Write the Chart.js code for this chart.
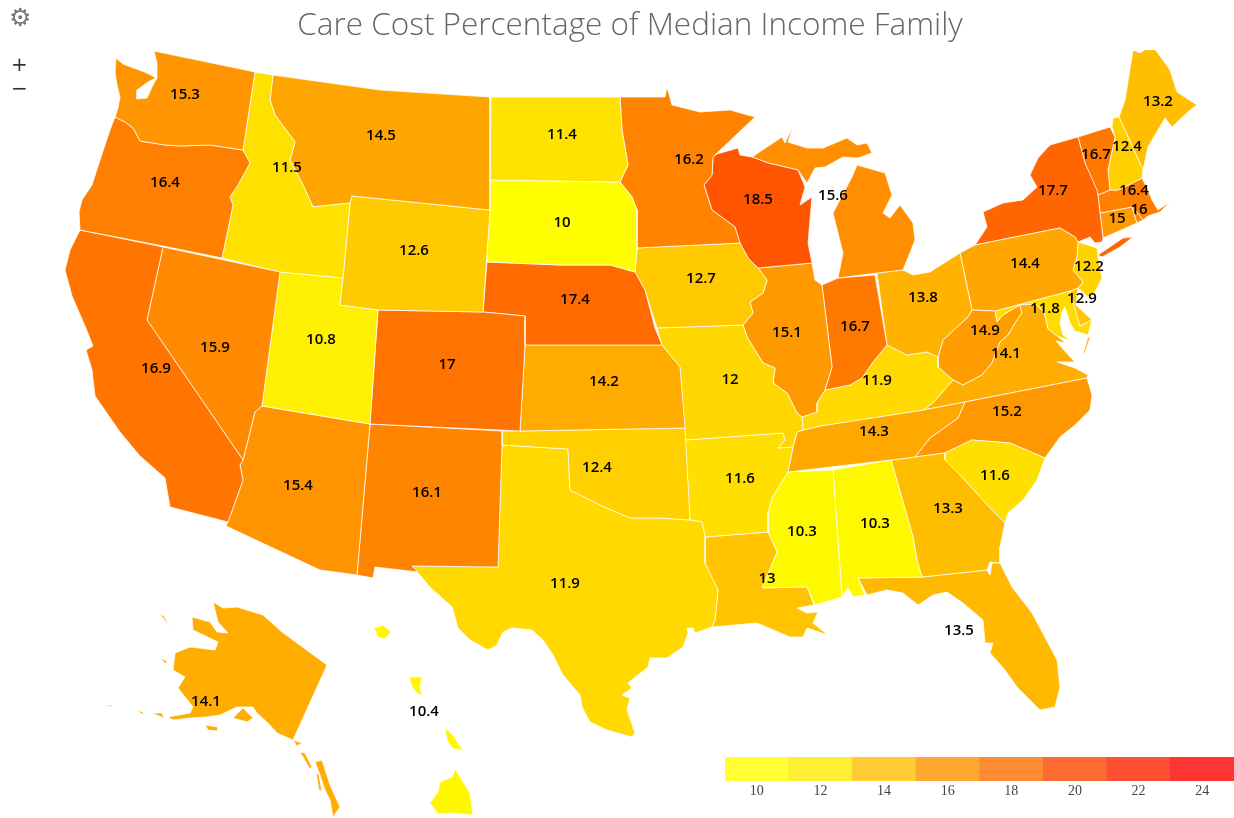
<!DOCTYPE html>
<html>
<head>
<meta charset="utf-8">
<script src="https://cdn.jsdelivr.net/npm/chart.js@4"></script>
<style>
    body { margin: 0; background: #fff; width: 1234px; height: 818px; overflow: hidden; position: relative; }
    #map { position: absolute; left: 0; top: 0; }
    #scale { position: absolute; left: 725px; top: 757px; }
    .tool { position: absolute; color: #555; font-family: 'DejaVu Sans', sans-serif; line-height: 1; }
</style>
</head>
<body>
<canvas id="map" width="1234" height="818"></canvas>
<canvas id="scale" width="509" height="49"></canvas>
<div class="tool" style="left:9px;top:5px;font-size:25px;color:#777">&#9881;</div>
<div class="tool" style="left:11px;top:54px;font-size:20px;color:#333">+</div>
<div class="tool" style="left:11px;top:78px;font-size:20px;color:#333">&minus;</div>
<script>
// Data
const chartTitle = 'Care Cost Percentage of Median Income Family';
const states = ['WA','OR','CA','NV','ID','MT','WY','UT','AZ','CO','NM','ND','SD','NE','KS','OK','TX','MN','IA','MO','AR','LA','WI','IL','MI','IN','OH','KY','TN','MS','AL','GA','FL','SC','NC','VA','WV','PA','NY','VT','NH','ME','MA','RI','CT','NJ','DE','MD','AK','HI'];
const careCost = [15.3,16.4,16.9,15.9,11.5,14.5,12.6,10.8,15.4,17,16.1,11.4,10,17.4,14.2,12.4,11.9,16.2,12.7,12,11.6,13,18.5,15.1,15.6,16.7,13.8,11.9,14.3,10.3,10.3,13.3,13.5,11.6,15.2,14.1,14.9,14.4,17.7,16.7,12.4,13.2,16.4,16,15,12.2,12.9,11.8,14.1,10.4];
const legendTicks = ['10','12','14','16','18','20','22','24'];
const legendColors = ['#ffff33','#ffef33','#ffcc33','#ffa933','#ff8c33','#ff6c33','#ff5033','#ff3533'];

// Where each value label sits, in map units
const labelAt = {
    WA:[185,95],OR:[165,183],CA:[156,369],NV:[215,348],ID:[287,168],MT:[381,136],WY:[414,251],UT:[321,340],AZ:[298,486],CO:[447,365],
    NM:[427,493],ND:[562,135],SD:[562,223],NE:[575,300],KS:[604,382],OK:[597,468],TX:[565,584],MN:[689,160],IA:[701,279],MO:[730,380],
    AR:[740,479],LA:[767,579],WI:[758,200],IL:[787,333],MI:[833,196],IN:[855,327],OH:[923,298],KY:[877,381],TN:[874,432],MS:[802,532],
    AL:[875,524],GA:[948,509],FL:[959,631],SC:[995,476],NC:[1007,412],VA:[1006,354],WV:[985,331],PA:[1025,264],NY:[1053,191],VT:[1096,155],
    NH:[1127,147],ME:[1158,102],MA:[1134,191],RI:[1139,210],CT:[1117,219],NJ:[1089,267],DE:[1082,299],MD:[1045,309],AK:[206,702],HI:[424,712]
};

// State outlines in map units, one list per island/part
const outlines = {
    WA: [[[154,51],[255,72],[243,150],[210,145],[180,146],[165,145],[140,141],[133,128],[125,122],[115,117],[118,108],[120,97],[117,85],[115,72],[116,58],[123,64],[147,73],[156,78],[148,82],[137,90],[137,99],[147,98],[153,85],[157,78],[157,63]]],
    OR: [[[115,117],[125,122],[133,128],[140,141],[165,145],[180,146],[210,145],[243,150],[250,163],[238,185],[230,197],[233,205],[222,258],[163,246],[80,230],[79,212],[82,200],[92,185],[100,160],[110,130]]],
    CA: [[[80,230],[163,247],[147,320],[243,460],[240,465],[243,480],[228,522],[170,507],[165,478],[140,456],[120,432],[95,396],[92,370],[86,350],[93,346],[85,326],[72,296],[65,270],[70,250]]],
    NV: [[[163,247],[280,272],[262,406],[255,412],[248,440],[243,460],[147,320]]],
    ID: [[[255,72],[273,75],[270,100],[275,115],[295,142],[290,160],[303,185],[313,207],[350,203],[343,278],[280,272],[222,258],[233,205],[230,197],[238,185],[250,163],[243,150]]],
    MT: [[[273,75],[380,90],[490,97],[490,210],[352,196],[350,203],[313,207],[303,185],[290,160],[295,142],[275,115],[270,100]]],
    WY: [[[352,196],[490,210],[483,312],[378,310],[340,305],[343,278],[350,203]]],
    UT: [[[280,272],[343,278],[340,305],[378,310],[370,424],[262,406]]],
    AZ: [[[262,406],[370,424],[357,575],[320,570],[226,526],[228,522],[243,480],[240,465],[243,460],[248,440],[255,412]]],
    CO: [[[378,310],[483,312],[525,316],[525,345],[520,431],[370,424]]],
    NM: [[[370,424],[502,431],[502,445],[498,567],[412,566],[418,572],[375,567],[373,578],[357,575]]],
    ND: [[[491,97],[620,97],[622,130],[628,165],[620,182],[490,180]]],
    SD: [[[490,180],[620,182],[632,197],[637,210],[637,250],[635,272],[610,265],[560,265],[487,262]]],
    NE: [[[487,262],[560,265],[610,265],[635,272],[645,290],[655,328],[662,345],[525,345],[525,316],[483,312]]],
    KS: [[[525,345],[662,345],[670,355],[680,367],[685,428],[520,431]]],
    OK: [[[502,431],[520,431],[685,428],[690,520],[660,518],[630,518],[600,505],[570,490],[568,449],[502,445]]],
    TX: [[[502,445],[568,449],[570,490],[600,505],[630,518],[660,518],[690,520],[702,522],[705,537],[705,563],[718,590],[715,620],[712,627],[695,633],[693,628],[687,628],[688,633],[683,647],[667,658],[650,658],[648,667],[638,675],[628,683],[632,688],[622,695],[630,698],[627,710],[635,733],[632,737],[607,730],[590,722],[582,707],[580,695],[563,675],[553,655],[543,640],[532,630],[512,628],[503,632],[497,645],[488,650],[470,640],[458,628],[452,607],[430,587],[412,566],[498,567]]],
    MN: [[[620,97],[665,97],[667,87],[672,105],[700,112],[730,110],[755,117],[717,153],[713,157],[712,175],[704,185],[712,210],[735,227],[740,243],[637,248],[637,210],[632,197],[620,182],[628,165],[622,130]]],
    IA: [[[637,248],[740,243],[748,258],[758,268],[767,280],[763,293],[750,302],[753,313],[743,325],[657,328],[645,290],[635,272],[637,250]]],
    MO: [[[657,328],[743,325],[747,337],[763,363],[775,368],[773,383],[787,393],[797,413],[802,417],[803,430],[797,432],[793,447],[778,448],[785,440],[783,433],[685,440],[680,367],[670,355],[662,345]]],
    AR: [[[685,440],[783,433],[785,440],[778,448],[793,447],[788,472],[772,498],[768,513],[768,532],[705,537],[702,522],[690,520]]],
    LA: [[[705,537],[768,532],[777,552],[762,588],[807,587],[814,605],[797,608],[807,613],[818,612],[813,623],[828,635],[807,628],[803,637],[790,637],[757,623],[712,627],[715,620],[718,590],[705,563]]],
    WI: [[[717,154],[738,148],[740,155],[752,157],[768,163],[798,170],[805,187],[800,205],[812,197],[810,220],[808,243],[812,263],[758,268],[748,258],[740,243],[735,227],[712,210],[704,185],[712,175],[713,157]]],
    IL: [[[758,268],[812,263],[815,280],[822,285],[832,367],[825,390],[817,403],[817,412],[802,417],[797,413],[787,393],[773,383],[775,368],[763,363],[747,337],[743,325],[753,313],[750,302],[763,293],[767,280]]],
    MI: [[[752,157],[767,147],[782,137],[785,143],[793,126],[788,142],[807,148],[823,148],[847,138],[857,145],[867,143],[872,153],[858,158],[843,157],[825,167],[815,168],[807,183],[798,170],[768,163]],
         [[857,165],[885,173],[892,195],[883,213],[890,218],[900,205],[913,223],[915,240],[903,270],[877,273],[838,278],[843,253],[833,213],[852,177]]],
    IN: [[[822,285],[838,278],[875,275],[887,345],[873,362],[862,378],[850,385],[825,390],[832,367]]],
    OH: [[[877,273],[903,270],[913,275],[930,272],[960,253],[972,310],[968,317],[957,327],[943,340],[938,357],[927,352],[907,355],[887,345]]],
    KY: [[[887,345],[907,355],[927,352],[938,357],[938,367],[953,380],[933,403],[923,410],[827,425],[825,425],[803,430],[802,417],[817,412],[817,403],[825,390],[850,385],[862,378],[873,362]]],
    TN: [[[803,430],[825,425],[923,410],[965,402],[958,418],[930,438],[915,457],[891,460],[788,472],[793,447],[797,432]]],
    MS: [[[788,472],[833,470],[842,597],[815,605],[807,587],[762,588],[777,552],[768,532],[768,513],[772,498]]],
    AL: [[[833,470],[891,460],[913,537],[917,560],[922,577],[858,578],[865,595],[853,597],[848,588],[842,597]]],
    GA: [[[891,460],[915,457],[945,453],[945,460],[960,475],[980,497],[992,510],[1005,523],[1000,547],[1000,563],[990,562],[987,570],[922,577],[917,560],[913,537]]],
    FL: [[[858,578],[922,577],[987,570],[990,575],[992,563],[1000,563],[1012,587],[1032,613],[1057,660],[1060,687],[1055,707],[1040,710],[1017,687],[1005,670],[990,653],[993,643],[985,643],[983,620],[963,603],[947,592],[933,595],[918,605],[903,593],[887,590],[867,595]]],
    SC: [[[945,453],[972,440],[1010,443],[1045,458],[1037,480],[1023,500],[1008,513],[1005,523],[992,510],[980,497],[960,475],[945,460]]],
    NC: [[[965,402],[1087,378],[1092,395],[1090,410],[1075,425],[1060,437],[1045,458],[1010,443],[972,440],[945,453],[915,457],[930,438],[958,418]]],
    VA: [[[923,410],[933,403],[953,380],[963,385],[982,375],[992,363],[1000,342],[1008,335],[1017,320],[1022,313],[1020,305],[1035,304],[1044,312],[1048,329],[1057,336],[1066,343],[1056,341],[1070,357],[1075,362],[1057,362],[1075,368],[1088,375],[1087,378],[965,402]],
         [[1088,337],[1090,338],[1085,352],[1082,357]]],
    WV: [[[972,310],[995,311],[997,322],[1003,315],[1020,305],[1022,313],[1017,320],[1008,335],[1000,342],[992,363],[982,375],[963,385],[953,380],[938,367],[938,357],[943,340],[957,327],[968,317]]],
    PA: [[[960,253],[975,245],[1060,228],[1075,237],[1078,242],[1077,257],[1073,270],[1083,282],[1078,288],[1070,291],[995,311],[972,310]]],
    NY: [[[975,245],[987,227],[983,212],[1003,203],[1023,200],[1037,187],[1030,175],[1038,158],[1050,145],[1078,137],[1085,163],[1097,190],[1098,195],[1100,213],[1103,238],[1102,242],[1095,243],[1090,237],[1078,242],[1075,237],[1060,228]],
         [[1098,255],[1123,238],[1133,237],[1120,247],[1102,257]]],
    VT: [[[1078,137],[1110,127],[1115,137],[1108,170],[1110,190],[1098,195],[1085,163]]],
    NH: [[[1113,118],[1119,117],[1143,170],[1142,178],[1118,190],[1110,190],[1108,170],[1115,137],[1112,127]]],
    ME: [[[1119,117],[1125,100],[1133,50],[1140,53],[1152,45],[1170,70],[1177,92],[1197,105],[1190,110],[1172,127],[1165,118],[1148,147],[1143,170]]],
    MA: [[[1098,195],[1110,190],[1118,190],[1142,178],[1148,190],[1152,200],[1158,210],[1170,202],[1160,212],[1148,216],[1143,220],[1137,212],[1132,207],[1100,213]]],
    RI: [[[1132,207],[1137,212],[1143,220],[1137,223]]],
    CT: [[[1100,213],[1132,207],[1137,223],[1103,238]]],
    NJ: [[[1078,242],[1097,248],[1098,257],[1102,278],[1095,292],[1088,297],[1078,288],[1083,282],[1073,270],[1077,257]]],
    DE: [[[1070,291],[1078,288],[1076,305],[1092,320],[1080,326],[1074,305]]],
    MD: [[[995,311],[1070,291],[1074,305],[1080,326],[1092,320],[1088,335],[1075,331],[1070,323],[1065,307],[1062,312],[1060,323],[1063,335],[1071,341],[1057,336],[1048,329],[1044,312],[1035,304],[1020,305],[1003,315],[997,322]]],
    AK: [[[213,602],[223,608],[237,607],[263,615],[282,632],[327,665],[293,740],[277,733],[268,723],[257,713],[253,707],[237,707],[220,715],[207,717],[190,718],[173,720],[168,717],[190,713],[193,707],[178,688],[185,677],[173,670],[175,653],[190,647],[215,650],[218,642],[193,630],[192,617],[210,622],[217,632],[228,633],[218,622]],
         [[233,718],[243,708],[253,718],[247,722]],
         [[293,740],[302,743],[297,746]],
         [[300,752],[305,753],[312,767],[310,769]],
         [[315,762],[322,760],[330,785],[340,807],[333,817],[330,800],[325,790],[320,775]],
         [[316,772],[319,775],[322,792],[319,790]],
         [[135,710],[143,712],[144,715]],[[152,713],[162,713],[164,718]],[[105,705],[112,705],[112,707]],[[205,725],[218,727],[218,731],[208,730]],
         [[160,614],[164,616],[170,627]],[[160,658],[167,661],[166,664]]],
    HI: [[[374,628],[383,625],[391,632],[385,639],[378,637]],
         [[409,677],[422,677],[420,687],[422,696],[417,693],[412,687]],
         [[445,728],[450,732],[455,738],[463,751],[452,748],[447,740]],
         [[455,769],[462,780],[470,793],[473,815],[453,813],[438,814],[430,803],[438,792],[440,782],[452,777]]]
};

// value -> fill colour, yellow at 10 running to red
function costColor(v) {
    const g = Math.max(0, Math.round(255 - 20 * (v - 10)));
    return 'rgb(255,' + g + ',0)';
}

// One filled scatter line per outline part
const datasets = [];
states.forEach((st, i) => {
    outlines[st].forEach(part => {
        const pts = part.map(p => ({ x: p[0], y: p[1] }));
        pts.push(pts[0]);
        datasets.push({
            label: st,
            data: pts,
            showLine: true,
            fill: 'shape',
            tension: 0,
            pointRadius: 0,
            pointHoverRadius: 0,
            borderWidth: 1,
            borderColor: 'rgba(255,255,255,0.75)',
            backgroundColor: costColor(careCost[i])
        });
    });
});

// Draws the state values on top of the map
const valueLabels = {
    id: 'valueLabels',
    afterDatasetsDraw(chart) {
        const { ctx, scales } = chart;
        ctx.save();
        ctx.font = "600 15px 'Open Sans', sans-serif";
        ctx.fillStyle = '#000';
        ctx.textAlign = 'center';
        ctx.textBaseline = 'middle';
        states.forEach((st, i) => {
            const pos = labelAt[st];
            ctx.fillText(String(careCost[i]), scales.x.getPixelForValue(pos[0]), scales.y.getPixelForValue(pos[1]));
        });
        ctx.restore();
    }
};

new Chart(document.getElementById('map'), {
    type: 'scatter',
    data: { datasets },
    plugins: [valueLabels],
    options: {
        responsive: false,
        animation: false,
        layout: { padding: { left: 26 } },
        plugins: {
            legend: { display: false },
            tooltip: { enabled: false },
            title: {
                display: true,
                text: chartTitle,
                fullSize: false,
                color: '#666',
                font: { family: "'Open Sans', sans-serif", size: 31.5, weight: 300, lineHeight: 1.2 },
                padding: { top: 7, bottom: 5.2 }
            }
        },
        scales: {
            x: { type: 'linear', display: false, min: 26, max: 1234 },
            y: { type: 'linear', display: false, min: 50, max: 818, reverse: true }
        }
    }
});

// Colour scale, bottom right
new Chart(document.getElementById('scale'), {
    type: 'bar',
    data: {
        labels: legendTicks,
        datasets: [{
            data: legendTicks.map(() => 1),
            backgroundColor: legendColors,
            barPercentage: 1,
            categoryPercentage: 1
        }]
    },
    options: {
        responsive: false,
        animation: false,
        plugins: { legend: { display: false }, tooltip: { enabled: false } },
        scales: {
            x: {
                grid: { display: false, drawTicks: false },
                border: { display: false },
                afterFit: scale => { scale.height = 25; },
                ticks: { color: '#444', padding: 2, font: { family: "'Liberation Serif', serif", size: 14 } }
            },
            y: { display: false, min: 0, max: 1 }
        }
    }
});
</script>
</body>
</html>
